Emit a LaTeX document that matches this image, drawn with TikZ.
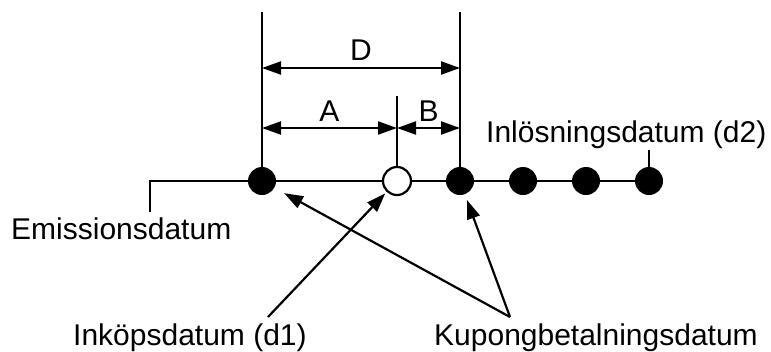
\documentclass[tikz,border=0pt]{standalone}
\usepackage{fontspec}
\setmainfont{Liberation Sans}
\usetikzlibrary{arrows.meta, backgrounds}
\tikzset{
	dotnode/.style={
			circle,
			fill=black,
			minimum size=28pt,
			inner sep=0pt
		},
	opennode/.style={
			circle,
			draw=black,
			fill=white,
			line width=2.2pt,
			minimum size=28pt,
			inner sep=0pt
		},
	textnode/.style={
			inner sep=0pt,
			font=\fontsize{30}{36}\selectfont
		},
	axisline/.style={
			line width=2.2pt
		},
	dimline/.style={
			line width=2.2pt,
			{Triangle[length=19pt,width=13pt]}-{Triangle[length=19pt,width=13pt]}
		},
	pointer/.style={
			line width=2.2pt,
			-{Triangle[length=19pt,width=13pt]}
		}
}
\begin{document}
\begin{tikzpicture}[x=1pt, y=-1pt]
				\useasboundingbox (0,0) rectangle (771,351);

				\node[dotnode] (emis) at (262,181) {};
				\node[opennode] (kop) at (397,181) {};
				\node[dotnode] (kup1) at (460,181) {};
				\node[dotnode] (kup2) at (523,181) {};
				\node[dotnode] (kup3) at (586,181) {};
				\node[dotnode] (losen) at (649,181) {};

				\node[textnode, anchor=base west] (emistext) at (11,239) {Emissionsdatum};
				\node[textnode, anchor=base west] (losentext) at (486,142) {Inlösningsdatum (d2)};
				\node[textnode, anchor=base west] (koptext) at (73,345) {Inköpsdatum (d1)};
				\node[textnode, anchor=base west] (kuptext) at (434,345) {Kupongbetalningsdatum};

				\coordinate (emisfoot) at (150,212);
				\coordinate (emistop) at (262,12);
				\coordinate (kuptop) at (460,12);
				\coordinate (koptop) at (397,96);
				\coordinate (losentop) at (649,150);
				\coordinate (dleft) at (262,68);
				\coordinate (dright) at (460,68);
				\coordinate (aleft) at (262,128);
				\coordinate (amid) at (397,128);
				\coordinate (bright) at (460,128);
				\coordinate (kopfoot) at (268,317);
				\coordinate (kupfoot) at (510,317);

				\begin{scope}[on background layer]
					\draw[axisline] (emisfoot) |- (losen.center);
				\end{scope}

				\draw[axisline] (emis) -- (emistop);
				\draw[axisline] (kup1) -- (kuptop);
				\draw[axisline] (kop) -- (koptop);
				\draw[axisline] (losen) -- (losentop);

				\draw[dimline] (dleft) -- node[textnode, above=6pt] {D} (dright);
				\draw[dimline] (aleft) -- node[textnode, above=5pt] {A} (amid);
				\draw[dimline] (amid) -- node[textnode, above=5pt] {B} (bright);

				\draw[pointer, shorten >=2pt] (kopfoot) -- (kop);
				\draw[pointer, shorten >=11pt] (kupfoot) -- (emis);
				\draw[pointer, shorten >=6pt] (kupfoot) -- (kup1);
\end{tikzpicture}
\end{document}
